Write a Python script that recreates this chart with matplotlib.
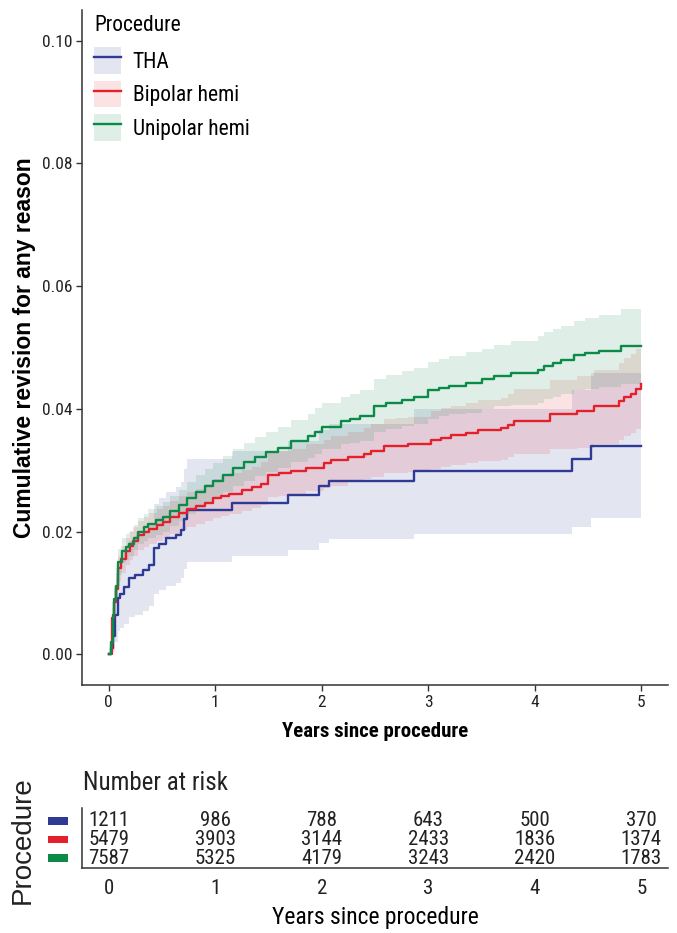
import matplotlib
matplotlib.use("Agg")
import matplotlib.pyplot as plt
from matplotlib.patches import Patch, Rectangle
from matplotlib.lines import Line2D
from matplotlib.transforms import blended_transform_factory
import matplotlib.font_manager as fm

entries = fm.fontManager.ttflist
def _w(f):
    w = f.weight
    if isinstance(w, str):
        return 700 if "bold" in w.lower() else 400
    return w
narrow_bold = sorted({f.name for f in entries
                      if ("Narrow" in f.name or "Condensed" in f.name) and _w(f) >= 600})
narrow_reg = sorted({f.name for f in entries if ("Narrow" in f.name or "Condensed" in f.name)})
pref = ["Liberation Sans Narrow", "Roboto Condensed", "Open Sans Condensed"]
pick = [p for p in pref if p in narrow_bold] or narrow_bold or narrow_reg
FAM = pick[:1] + ["Liberation Sans", "DejaVu Sans"]
WIDE = ["Liberation Sans", "DejaVu Sans"]
plt.rcParams["font.family"] = FAM

# ---------------- data ----------------
groups = ["THA", "Bipolar hemi", "Unipolar hemi"]
colors = ["#2E3A94", "#E3202B", "#0B8A48"]

tha_t  = [0, 0.02, 0.04, 0.06, 0.09, 0.11, 0.14, 0.19, 0.25, 0.32, 0.38, 0.43, 0.47, 0.54,
          0.63, 0.68, 0.71, 0.74, 1.16, 1.68, 1.97, 2.07, 2.87, 4.35, 4.53, 5.0]
tha_est = [0, .001, .003, .0064, .0091, .0099, .011, .0124, .0129, .0137, .0145, .0173, .018, .0189,
           .0194, .0202, .0221, .0235, .0246, .0259, .0274, .0282, .0298, .0319, .0340, .0340]
tha_lo = [0, 0, .0005, .002, .0038, .0043, .005, .006, .0064, .007, .0078, .0098, .0104, .0112,
          .0117, .0124, .0139, .0150, .0160, .0170, .0182, .0188, .0196, .0208, .0222, .0222]
tha_hi = [0, .003, .0058, .0105, .014, .0152, .0168, .0185, .0192, .0202, .0212, .0245, .0254, .0265,
          .0272, .0281, .0302, .0318, .0332, .0348, .0366, .0375, .0399, .0430, .0458, .0458]

bip_t = [0, 0.03, 0.05, 0.07, 0.09, 0.12, 0.16, 0.20, 0.23, 0.28, 0.33, 0.38, 0.45, 0.51, 0.58,
         0.66, 0.74, 0.82, 0.90, 0.98, 1.05, 1.13, 1.25, 1.35, 1.43, 1.5, 1.6, 1.71, 1.85, 2.02,
         2.09, 2.25, 2.4, 2.46, 2.58, 2.70, 2.81, 3.03, 3.12, 3.21, 3.35, 3.47, 3.68, 3.75, 3.8,
         4.14, 4.4, 4.56, 4.79, 4.84, 4.9, 4.95, 5.0]
bip_est = [0, .0059, .0085, .0107, .014, .0155, .0168, .0177, .0184, .0194, .0199, .0205, .0211,
           .0216, .0223, .023, .0236, .0241, .0247, .0254, .0258, .0262, .0267, .0272, .0278,
           .0293, .0295, .0298, .0304, .0311, .0316, .0321, .0327, .0332, .0339, .0340, .0342,
           .0349, .0353, .0357, .0361, .0365, .0368, .0373, .038, .0392, .0396, .0404, .0412,
           .042, .0425, .0433, .0441]
bip_lo = [0, .0045, .0068, .009, .012, .0133, .0145, .0153, .016, .017, .0175, .018, .0185,
          .019, .0196, .0202, .0207, .0212, .0217, .0222, .0226, .0229, .0233, .0238, .0243,
          .0256, .0258, .0261, .0266, .0271, .0275, .0280, .0285, .0289, .0295, .0296, .0297,
          .0302, .0305, .0309, .0312, .0315, .0317, .0321, .0327, .0335, .0337, .0343, .0349,
          .0356, .0360, .0367, .0372]
bip_hi = [0, .0075, .0103, .0125, .016, .0177, .019, .0201, .0208, .0218, .0224, .023, .0236,
          .0242, .025, .0258, .0264, .027, .0277, .0285, .0290, .0295, .030, .0306, .0313,
          .0328, .0331, .0335, .0342, .035, .0356, .0362, .0369, .0375, .0383, .0385, .0387,
          .0396, .0401, .0405, .0410, .0414, .0418, .0424, .0432, .0447, .0454, .0464, .0474,
          .0483, .0489, .0498, .0508]

uni_t = [0, 0.02, 0.04, 0.055, 0.07, 0.09, 0.13, 0.16, 0.19, 0.24, 0.28, 0.33, 0.37, 0.44, 0.51,
         0.58, 0.66, 0.74, 0.82, 0.90, 0.98, 1.07, 1.17, 1.27, 1.37, 1.48, 1.59, 1.71, 1.87,
         1.94, 2.0, 2.18, 2.27, 2.36, 2.49, 2.6, 2.75, 2.87, 3.0, 3.1, 3.19, 3.35, 3.5, 3.62,
         3.78, 4.03, 4.09, 4.17, 4.25, 4.37, 4.47, 4.6, 4.81, 5.0]
uni_est = [0, .002, .0064, .009, .0112, .0151, .0168, .0175, .018, .019, .020, .0207, .0213,
           .0219, .0224, .0234, .0243, .0254, .0265, .0274, .0282, .0292, .0303, .0313, .0322,
           .0329, .0336, .0347, .0355, .0363, .0371, .038, .0384, .0388, .0404, .041, .0415,
           .042, .043, .0434, .0438, .0442, .0448, .0454, .0458, .0463, .047, .0475, .048,
           .0487, .0491, .0495, .0502, .0502]
uni_lo = [0, .001, .0045, .0068, .0092, .013, .0148, .0154, .016, .017, .018, .0185, .019,
          .0195, .020, .0209, .0218, .0228, .0238, .0247, .0255, .0264, .0274, .0283, .0291,
          .0297, .0303, .0313, .0320, .0327, .0334, .0342, .0345, .0348, .0362, .0367, .0372,
          .0376, .0384, .0388, .0391, .0394, .0399, .0404, .0407, .0410, .0416, .0420, .0424,
          .0430, .0433, .0436, .0441, .0441]
uni_hi = [0, .003, .0082, .0112, .0132, .0172, .019, .0196, .020, .0211, .0222, .0229, .0236,
          .0242, .0248, .0258, .0268, .028, .0292, .0302, .0312, .0323, .0334, .0344, .0354,
          .0362, .0370, .0382, .0392, .0401, .0410, .0420, .0424, .0430, .0448, .0455, .0461,
          .0466, .0477, .0482, .0486, .0492, .0498, .0504, .0510, .0518, .0525, .0530, .0535,
          .0544, .0548, .0553, .0563, .0563]

risk_times = [0, 1, 2, 3, 4, 5]
risk_tha = [1211, 986, 788, 643, 500, 370]
risk_bip = [5479, 3903, 3144, 2433, 1836, 1374]
risk_uni = [7587, 5325, 4179, 3243, 2420, 1783]

series = [(tha_t, tha_est, tha_lo, tha_hi),
          (bip_t, bip_est, bip_lo, bip_hi),
          (uni_t, uni_est, uni_lo, uni_hi)]
risks = [risk_tha, risk_bip, risk_uni]

# ---------------- figure ----------------
W, H = 677, 933
fig = plt.figure(figsize=(W / 100, H / 100), dpi=100)
TXT = "#222222"
ALPHA = 0.13

def fx(px):
    return px / W

def fy(py):
    return 1 - py / H

ax = fig.add_axes([fx(82), fy(685), fx(668) - fx(82), fy(10) - fy(685)])
for (t, e, lo, hi), c in zip(series, colors):
    ax.fill_between(t, lo, hi, step="post", color=c, alpha=ALPHA, lw=0)
for (t, e, lo, hi), c in zip(series, colors):
    ax.step(t, e, where="post", color=c, lw=1.7)

ax.set_xlim(-0.25, 5.25)
ax.set_ylim(-0.005, 0.105)
ax.set_xticks(range(6))
ax.set_yticks([0, 0.02, 0.04, 0.06, 0.08, 0.10])
ax.set_yticklabels(["0.00", "0.02", "0.04", "0.06", "0.08", "0.10"])
for s in ["top", "right"]:
    ax.spines[s].set_visible(False)
for s in ["left", "bottom"]:
    ax.spines[s].set_linewidth(1.1)
    ax.spines[s].set_color("#333333")
ax.tick_params(axis="both", length=4, width=1.0, color="#333333", labelsize=12.5,
               labelcolor=TXT, pad=3)
ax.set_xlabel("Years since procedure", fontsize=15, fontweight="bold", labelpad=9)
ax.set_ylabel("Cumulative revision for any reason", fontsize=16.5, fontweight="bold",
              family=WIDE, labelpad=4)

handles = [(Patch(facecolor=c, alpha=ALPHA, edgecolor="none"), Line2D([], [], color=c, lw=1.7))
           for c in colors]
leg = ax.legend(handles, groups, title="Procedure", loc="upper left",
                bbox_to_anchor=(fx(94), fy(15)), bbox_transform=fig.transFigure,
                frameon=False, fontsize=15.5, title_fontsize=15.5, handlelength=1.25,
                handleheight=1.55, labelspacing=0.3, handletextpad=0.55,
                borderaxespad=0, borderpad=0, alignment="left")
leg._legend_box.sep = 8

# ---------------- risk table ----------------
tax = fig.add_axes([fx(82), fy(868), fx(668) - fx(82), fy(808) - fy(868)])
tax.set_xlim(-0.25, 5.25)
tax.set_ylim(0.46, 3.70)
rows = [3, 2, 1]
for r, vals in zip(rows, risks):
    for t, v in zip(risk_times, vals):
        tax.text(t, r, str(v), ha="center", va="center", fontsize=15, color=TXT)
for s in ["top", "right"]:
    tax.spines[s].set_visible(False)
for s in ["left", "bottom"]:
    tax.spines[s].set_linewidth(1.1)
    tax.spines[s].set_color("#333333")
tax.set_xticks(risk_times)
tax.set_yticks([])
tax.tick_params(axis="x", length=0, labelsize=15, labelcolor=TXT, pad=8)
tax.set_xlabel("Years since procedure", fontsize=17, labelpad=6)
trans = blended_transform_factory(tax.transAxes, tax.transData)
for r, c in zip(rows, colors):
    tax.add_patch(Rectangle((-34 / 586, r - 0.2), 20 / 586, 0.4, transform=trans,
                            facecolor=c, edgecolor="none", clip_on=False))
fig.text(fx(83), fy(783), "Number at risk", fontsize=18, ha="left", va="center", color=TXT)
fig.text(fx(23), fy(840), "Procedure", fontsize=20, rotation=90, ha="center", va="center",
         color=TXT, family=WIDE)

fig.savefig("out.png", dpi=100)
